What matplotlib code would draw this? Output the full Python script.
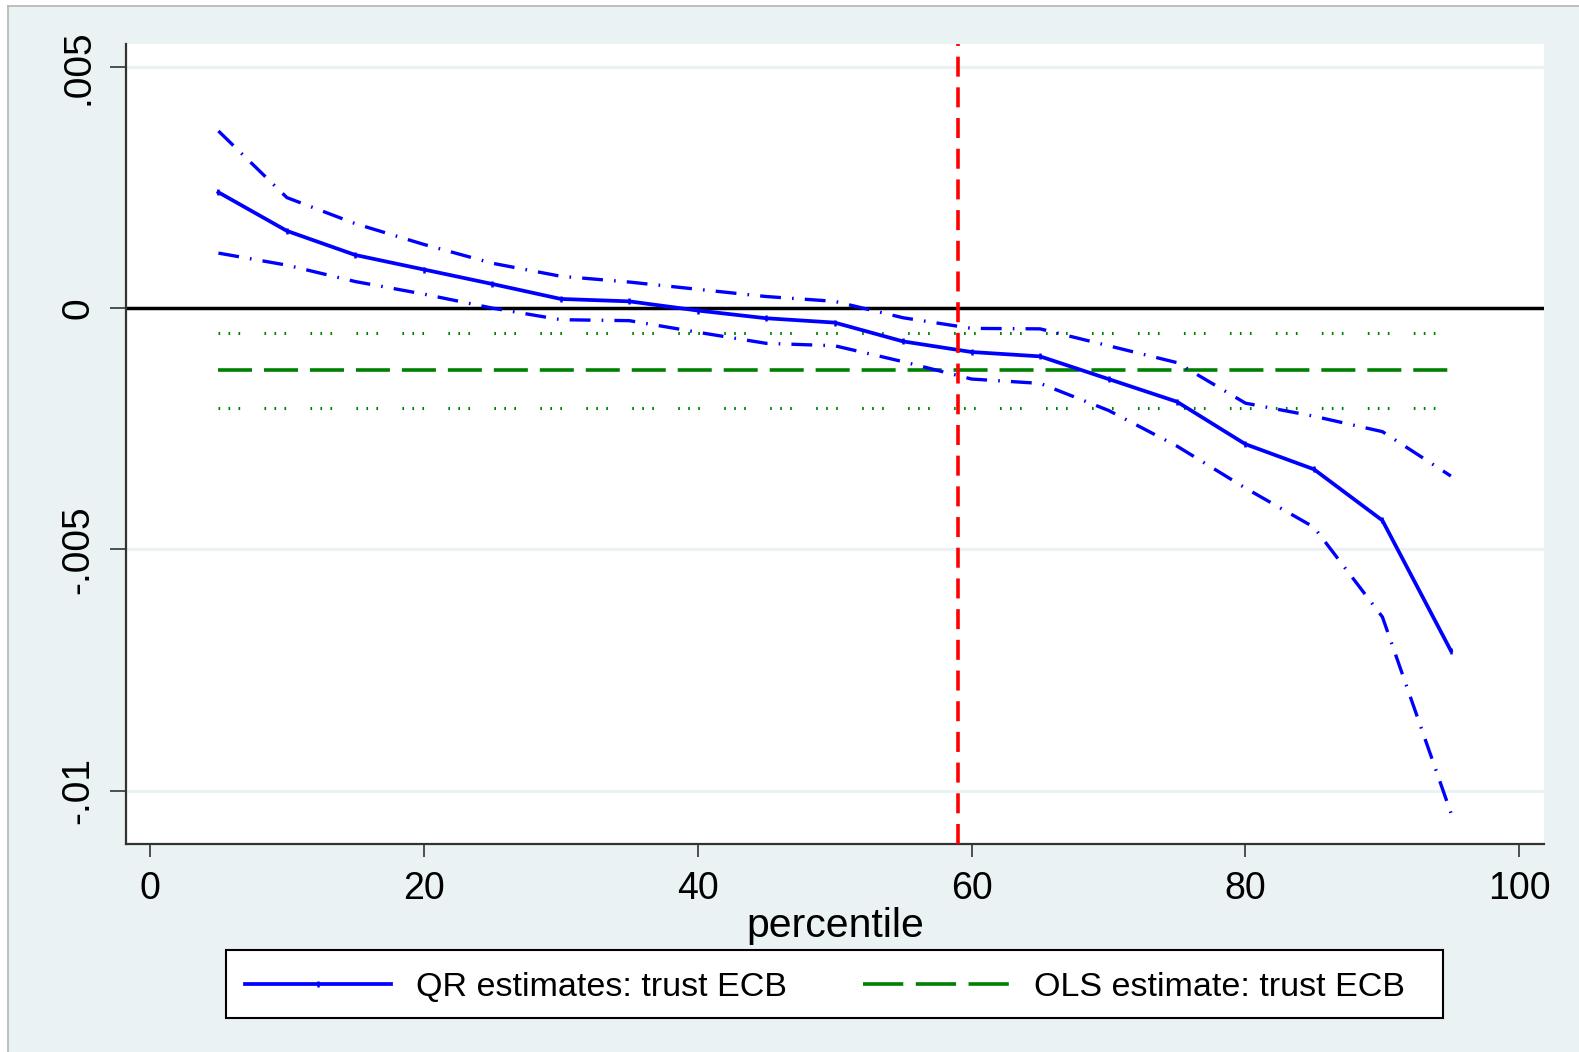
import matplotlib
matplotlib.use('Agg')
import matplotlib.pyplot as plt
from matplotlib.lines import Line2D
from matplotlib.patches import Rectangle

plt.rcParams['font.family'] = ['Liberation Sans', 'DejaVu Sans']
plt.rcParams['lines.scale_dashes'] = False

# quantile regression estimates by percentile
pct = [5, 10, 15, 20, 25, 30, 35, 40, 45, 50, 55, 60, 65, 70, 75, 80, 85, 90, 95]
qr = [0.0024, 0.0016, 0.0011, 0.0008, 0.0005, 0.00019, 0.00014, -0.00005, -0.00021, -0.0003,
      -0.00069, -0.00091, -0.001, -0.00147, -0.00194, -0.00282, -0.00334, -0.0044, -0.0071]
qr_hi = [0.00367, 0.00229, 0.00175, 0.00132, 0.00093, 0.00066, 0.00054, 0.00039, 0.00024, 0.00014,
         -0.0002, -0.00042, -0.00043, -0.00078, -0.00113, -0.00197, -0.00224, -0.00256, -0.00348]
qr_lo = [0.00114, 0.00089, 0.00055, 0.00029, 0.0, -0.00024, -0.00026, -0.0005, -0.00073, -0.00078,
         -0.00111, -0.00147, -0.00156, -0.00212, -0.00286, -0.00373, -0.00454, -0.0064, -0.01046]

# OLS estimate and its confidence band
ols_est = -0.00128
ols_hi = -0.00052
ols_lo = -0.00208

vline_x = 59

xticks = [0, 20, 40, 60, 80, 100]
yticks = [-0.01, -0.005, 0, 0.005]
ylabels = ['-.01', '-.005', '0', '.005']

W, H = 1579, 1052
bg = '#EAF2F3'
fig = plt.figure(figsize=(W / 100, H / 100), dpi=100)
fig.patch.set_facecolor('white')
fig.patches.append(Rectangle((8 / W, 0), 1, 1 - 6 / H, transform=fig.transFigure,
                             facecolor=bg, edgecolor='none', zorder=-10))
fig.add_artist(Line2D([8 / W, 8 / W], [0, 1 - 6 / H], color='#b4b4b4', lw=1.2, transform=fig.transFigure))
fig.add_artist(Line2D([8 / W, 1], [1 - 6 / H, 1 - 6 / H], color='#b4b4b4', lw=1.2, transform=fig.transFigure))

ax = fig.add_axes([126 / W, 1 - 844 / H, (1544 - 126) / W, (844 - 44) / H])
ax.set_facecolor('white')
ax.set_xlim(-1.75, 101.8)
ax.set_ylim(-0.011105, 0.005473)

for y in yticks:
    if y != 0:
        ax.axhline(y, color=bg, lw=2.2, zorder=0)

ax.axhline(0, color='black', lw=2.5, zorder=2)

# OLS
ax.hlines([ols_hi, ols_lo], pct[0], pct[-1], colors='#008000', lw=2.2,
          linestyles=[(0, (1.2, 6.0, 1.2, 6.0, 1.2, 17.5))], zorder=3)
ax.hlines(ols_est, pct[0], pct[-1], colors='#008000', lw=2.6,
          linestyles=[(0, (24.5, 8.6))], zorder=3)

# QR
ax.plot(pct, qr_hi, color='#0000FF', lw=2.4, ls=(0, (15, 8, 1.2, 8)), zorder=4)
ax.plot(pct, qr_lo, color='#0000FF', lw=2.4, ls=(0, (15, 8, 1.2, 8)), zorder=4)
ax.plot(pct, qr, color='#0000FF', lw=2.7, marker='|', ms=5, mew=1.8, zorder=5)

ax.axvline(vline_x, color='red', lw=2.6, ls=(0, (14.4, 7.7)), zorder=6)

for s in ['top', 'right']:
    ax.spines[s].set_visible(False)
for s in ['left', 'bottom']:
    ax.spines[s].set_color('#333333')
    ax.spines[s].set_linewidth(1.6)

ax.set_xticks(xticks)
ax.set_xticklabels([str(v) for v in xticks])
ax.set_yticks(yticks)
ax.set_yticklabels(ylabels, rotation=90, va='center')
ax.tick_params(axis='x', length=9.5, width=1.2, color='#333333', labelsize=27, pad=10)
ax.tick_params(axis='y', length=11.5, width=1.2, color='#333333', labelsize=28, pad=10)
ax.set_xlabel('percentile', fontsize=29.5, labelpad=0)

# legend box
fig.patches.append(Rectangle((225.6 / W, 1 - 1017.5 / H), (1443 - 225.6) / W, (1017.5 - 949.6) / H,
                             transform=fig.transFigure, facecolor='white', edgecolor='black',
                             lw=1.5, zorder=5))
handles = [Line2D([], [], color='#0000FF', lw=2.7, marker='|', ms=5, mew=1.8),
           Line2D([], [], color='#008000', lw=2.6, ls=(0, (29, 9)))]
leg = fig.legend(handles, ['QR estimates: trust ECB', 'OLS estimate: trust ECB'],
                 ncol=2, loc='center left',
                 bbox_to_anchor=(244.7 / W, 1 - 987 / H),
                 fontsize=24.5, frameon=False, borderpad=0, borderaxespad=0,
                 handlelength=4.3, handletextpad=0.72, columnspacing=2.25,
                 numpoints=1)
leg.set_zorder(6)

fig.savefig('out.png', dpi=100, facecolor=fig.get_facecolor())
